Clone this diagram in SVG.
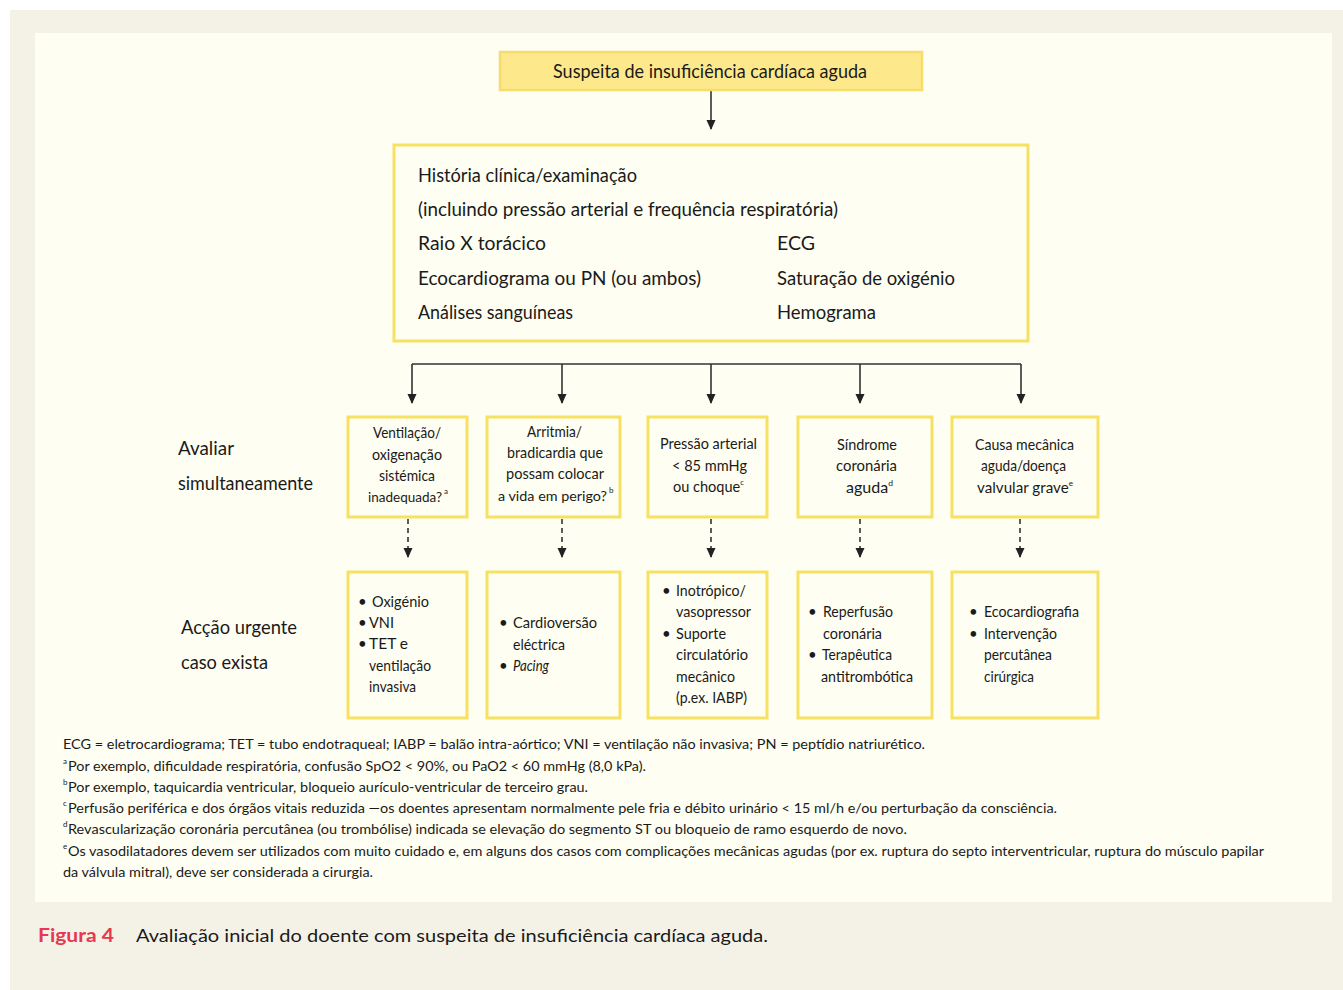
<svg xmlns="http://www.w3.org/2000/svg" width="1343" height="990" viewBox="0 0 1343 990">
<style>
text{font-family:Lato,"Liberation Sans",sans-serif;fill:#1a1a1a}
.box{fill:#fefef2;stroke:#f6e162;stroke-width:3}
.big{font-size:19.5px}
.sm{font-size:15px}
.fn{font-size:14px}
.sup{font-size:8px}
.c{stroke:#333;stroke-width:1.6;fill:none}
.d{stroke:#333;stroke-width:1.6;fill:none;stroke-dasharray:5,4}
</style>
<defs>
<marker id="ah" markerWidth="10" markerHeight="10" refX="9" refY="5" orient="auto" markerUnits="userSpaceOnUse">
<path d="M0,0.5 L10,5 L0,9.5 z" fill="#222"/>
</marker>
</defs>
<rect x="0" y="0" width="1343" height="990" fill="#ffffff"/>
<rect x="10" y="10" width="1333" height="980" fill="#f4f2e7"/>
<rect x="35" y="33" width="1297" height="869" fill="#fefef2"/>

<g id="connectors">
<line class="c" x1="711" y1="91" x2="711" y2="129" marker-end="url(#ah)"/>
<line class="c" x1="412" y1="364" x2="1021" y2="364"/>
<line class="c" x1="412" y1="364" x2="412" y2="403" marker-end="url(#ah)"/>
<line class="c" x1="562" y1="364" x2="562" y2="403" marker-end="url(#ah)"/>
<line class="c" x1="711" y1="364" x2="711" y2="403" marker-end="url(#ah)"/>
<line class="c" x1="860" y1="364" x2="860" y2="403" marker-end="url(#ah)"/>
<line class="c" x1="1021" y1="364" x2="1021" y2="403" marker-end="url(#ah)"/>
<line class="d" x1="408" y1="519" x2="408" y2="557" marker-end="url(#ah)"/>
<line class="d" x1="562" y1="519" x2="562" y2="557" marker-end="url(#ah)"/>
<line class="d" x1="711" y1="519" x2="711" y2="557" marker-end="url(#ah)"/>
<line class="d" x1="860" y1="519" x2="860" y2="557" marker-end="url(#ah)"/>
<line class="d" x1="1020" y1="519" x2="1020" y2="557" marker-end="url(#ah)"/>
</g>

<g id="top">
<rect x="500" y="52" width="422" height="38" fill="#fde98c" stroke="#f6dc6a" stroke-width="2.5"/>
<text x="553" y="78" font-size="19" textLength="314" lengthAdjust="spacingAndGlyphs">Suspeita de insuficiência cardíaca aguda</text>
</g>

<g id="history">
<rect class="box" x="394" y="145" width="634" height="196"/>
<text class="big" x="418" y="182" textLength="219" lengthAdjust="spacingAndGlyphs">História clínica/examinação</text>
<text class="big" x="418" y="216" textLength="420" lengthAdjust="spacingAndGlyphs">(incluindo pressão arterial e frequência respiratória)</text>
<text class="big" x="418" y="250" textLength="128" lengthAdjust="spacingAndGlyphs">Raio X torácico</text>
<text class="big" x="418" y="285" textLength="283" lengthAdjust="spacingAndGlyphs">Ecocardiograma ou PN (ou ambos)</text>
<text class="big" x="418" y="319" textLength="155" lengthAdjust="spacingAndGlyphs">Análises sanguíneas</text>
<text class="big" x="777" y="250" textLength="38" lengthAdjust="spacingAndGlyphs">ECG</text>
<text class="big" x="777" y="285" textLength="178" lengthAdjust="spacingAndGlyphs">Saturação de oxigénio</text>
<text class="big" x="777" y="319" textLength="99" lengthAdjust="spacingAndGlyphs">Hemograma</text>
</g>

<g id="labels">
<text x="178" y="455" font-size="20" textLength="56" lengthAdjust="spacingAndGlyphs">Avaliar</text>
<text x="178" y="490" font-size="20" textLength="135" lengthAdjust="spacingAndGlyphs">simultaneamente</text>
<text x="181" y="634" font-size="20" textLength="116" lengthAdjust="spacingAndGlyphs">Acção urgente</text>
<text x="181" y="669" font-size="20" textLength="87" lengthAdjust="spacingAndGlyphs">caso exista</text>
</g>

<g id="assess1">
<rect class="box" x="348" y="417" width="119" height="100"/>
<text class="sm" x="373" y="438" textLength="68" lengthAdjust="spacingAndGlyphs">Ventilação/</text>
<text class="sm" x="372" y="460" textLength="70" lengthAdjust="spacingAndGlyphs">oxigenação</text>
<text class="sm" x="379" y="481" textLength="56" lengthAdjust="spacingAndGlyphs">sistémica</text>
<text x="368" y="502" font-size="13.2" textLength="74" lengthAdjust="spacingAndGlyphs">inadequada?</text>
<text class="sup" x="444" y="494">a</text>
</g>
<g id="assess2">
<rect class="box" x="487" y="417" width="133" height="100"/>
<text class="sm" x="527" y="437" textLength="55" lengthAdjust="spacingAndGlyphs">Arritmia/</text>
<text class="sm" x="507" y="458" textLength="96" lengthAdjust="spacingAndGlyphs">bradicardia que</text>
<text class="sm" x="506" y="479" textLength="98" lengthAdjust="spacingAndGlyphs">possam colocar</text>
<text x="498" y="501" font-size="13.2" textLength="109" lengthAdjust="spacingAndGlyphs">a vida em perigo?</text>
<text class="sup" x="609" y="493">b</text>
</g>
<g id="assess3">
<rect class="box" x="648" y="417" width="119" height="100"/>
<text class="sm" x="660" y="449" textLength="97" lengthAdjust="spacingAndGlyphs">Pressão arterial</text>
<text class="sm" x="672" y="471" textLength="75" lengthAdjust="spacingAndGlyphs">&lt; 85 mmHg</text>
<text class="sm" x="673" y="492" textLength="71" lengthAdjust="spacingAndGlyphs">ou choque<tspan class="sup" dy="-7">c</tspan></text>
</g>
<g id="assess4">
<rect class="box" x="798" y="417" width="134" height="100"/>
<text class="sm" x="837" y="450" textLength="60" lengthAdjust="spacingAndGlyphs">Síndrome</text>
<text class="sm" x="836" y="471" textLength="61" lengthAdjust="spacingAndGlyphs">coronária</text>
<text class="sm" x="846" y="493" textLength="47" lengthAdjust="spacingAndGlyphs">aguda<tspan class="sup" dy="-7">d</tspan></text>
</g>
<g id="assess5">
<rect class="box" x="952" y="417" width="146" height="100"/>
<text class="sm" x="975" y="450" textLength="99" lengthAdjust="spacingAndGlyphs">Causa mecânica</text>
<text class="sm" x="981" y="471" textLength="85" lengthAdjust="spacingAndGlyphs">aguda/doença</text>
<text class="sm" x="977" y="493" textLength="96" lengthAdjust="spacingAndGlyphs">valvular grave<tspan class="sup" dy="-7">e</tspan></text>
</g>

<g id="action1">
<rect class="box" x="348" y="572" width="119" height="146"/>
<text class="sm" x="358" y="607">•</text>
<text class="sm" x="372" y="607" textLength="57" lengthAdjust="spacingAndGlyphs">Oxigénio</text>
<text class="sm" x="358" y="628">•</text>
<text class="sm" x="369" y="628" textLength="25" lengthAdjust="spacingAndGlyphs">VNI</text>
<text class="sm" x="358" y="649">•</text>
<text class="sm" x="369" y="649" textLength="39" lengthAdjust="spacingAndGlyphs">TET e</text>
<text class="sm" x="369" y="671" textLength="62" lengthAdjust="spacingAndGlyphs">ventilação</text>
<text class="sm" x="369" y="692" textLength="47" lengthAdjust="spacingAndGlyphs">invasiva</text>
</g>
<g id="action2">
<rect class="box" x="487" y="572" width="133" height="146"/>
<text class="sm" x="499" y="628">•</text>
<text class="sm" x="513" y="628" textLength="84" lengthAdjust="spacingAndGlyphs">Cardioversão</text>
<text class="sm" x="513" y="650" textLength="52" lengthAdjust="spacingAndGlyphs">eléctrica</text>
<text class="sm" x="499" y="671">•</text>
<text class="sm" x="513" y="671" font-style="italic" textLength="36" lengthAdjust="spacingAndGlyphs">Pacing</text>
</g>
<g id="action3">
<rect class="box" x="648" y="572" width="119" height="146"/>
<text class="sm" x="662" y="596">•</text>
<text class="sm" x="676" y="596" textLength="70" lengthAdjust="spacingAndGlyphs">Inotrópico/</text>
<text class="sm" x="676" y="617" textLength="75" lengthAdjust="spacingAndGlyphs">vasopressor</text>
<text class="sm" x="662" y="639">•</text>
<text class="sm" x="676" y="639" textLength="50" lengthAdjust="spacingAndGlyphs">Suporte</text>
<text class="sm" x="676" y="660" textLength="72" lengthAdjust="spacingAndGlyphs">circulatório</text>
<text class="sm" x="676" y="682" textLength="59" lengthAdjust="spacingAndGlyphs">mecânico</text>
<text class="sm" x="676" y="703" textLength="71" lengthAdjust="spacingAndGlyphs">(p.ex. IABP)</text>
</g>
<g id="action4">
<rect class="box" x="798" y="572" width="134" height="146"/>
<text class="sm" x="808" y="617">•</text>
<text class="sm" x="823" y="617" textLength="70" lengthAdjust="spacingAndGlyphs">Reperfusão</text>
<text class="sm" x="823" y="639" textLength="59" lengthAdjust="spacingAndGlyphs">coronária</text>
<text class="sm" x="808" y="660">•</text>
<text class="sm" x="822" y="660" textLength="70" lengthAdjust="spacingAndGlyphs">Terapêutica</text>
<text class="sm" x="821" y="682" textLength="92" lengthAdjust="spacingAndGlyphs">antitrombótica</text>
</g>
<g id="action5">
<rect class="box" x="952" y="572" width="146" height="146"/>
<text class="sm" x="969" y="617">•</text>
<text class="sm" x="984" y="617" textLength="95" lengthAdjust="spacingAndGlyphs">Ecocardiografia</text>
<text class="sm" x="969" y="639">•</text>
<text class="sm" x="984" y="639" textLength="73" lengthAdjust="spacingAndGlyphs">Intervenção</text>
<text class="sm" x="984" y="660" textLength="68" lengthAdjust="spacingAndGlyphs">percutânea</text>
<text class="sm" x="984" y="682" textLength="50" lengthAdjust="spacingAndGlyphs">cirúrgica</text>
</g>

<g id="footnotes">
<text class="fn" x="63" y="749" textLength="862" lengthAdjust="spacingAndGlyphs">ECG = eletrocardiograma; TET = tubo endotraqueal; IABP = balão intra-aórtico; VNI = ventilação não invasiva; PN = peptídio natriurético.</text>
<text class="sup" x="63" y="764">a</text>
<text class="fn" x="68" y="771" textLength="578" lengthAdjust="spacingAndGlyphs">Por exemplo, dificuldade respiratória, confusão SpO2 &lt; 90%, ou PaO2 &lt; 60 mmHg (8,0 kPa).</text>
<text class="sup" x="63" y="785">b</text>
<text class="fn" x="68" y="792" textLength="520" lengthAdjust="spacingAndGlyphs">Por exemplo, taquicardia ventricular, bloqueio aurículo-ventricular de terceiro grau.</text>
<text class="sup" x="63" y="806">c</text>
<text class="fn" x="68" y="813" textLength="989" lengthAdjust="spacingAndGlyphs">Perfusão periférica e dos órgãos vitais reduzida —os doentes apresentam normalmente pele fria e débito urinário &lt; 15 ml/h e/ou perturbação da consciência.</text>
<text class="sup" x="63" y="827">d</text>
<text class="fn" x="68" y="834" textLength="839" lengthAdjust="spacingAndGlyphs">Revascularização coronária percutânea (ou trombólise) indicada se elevação do segmento ST ou bloqueio de ramo esquerdo de novo.</text>
<text class="sup" x="63" y="849">e</text>
<text class="fn" x="68" y="856" textLength="1196" lengthAdjust="spacingAndGlyphs">Os vasodilatadores devem ser utilizados com muito cuidado e, em alguns dos casos com complicações mecânicas agudas (por ex. ruptura do septo interventricular, ruptura do músculo papilar</text>
<text class="fn" x="63" y="877" textLength="310" lengthAdjust="spacingAndGlyphs">da válvula mitral), deve ser considerada a cirurgia.</text>
</g>

<g id="caption">
<text x="38" y="942" font-size="18" font-weight="bold" style="fill:#e63950" textLength="76" lengthAdjust="spacingAndGlyphs">Figura 4</text>
<text x="136" y="942" font-size="18" textLength="632" lengthAdjust="spacingAndGlyphs">Avaliação inicial do doente com suspeita de insuficiência cardíaca aguda.</text>
</g>
</svg>
